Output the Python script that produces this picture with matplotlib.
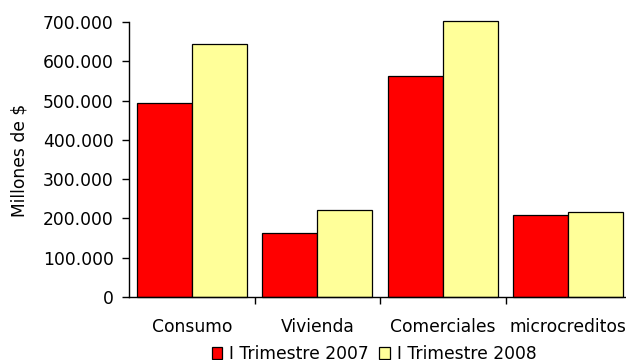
import numpy as np
import matplotlib
matplotlib.use("Agg")
import matplotlib.pyplot as plt
from matplotlib.ticker import FuncFormatter

categorias = ["Consumo", "Vivienda", "Comerciales", "microcreditos"]
trim_2007 = [494000, 164000, 562000, 209000]
trim_2008 = [643000, 221000, 703000, 217000]
series = ["I Trimestre 2007", "I Trimestre 2008"]

plt.rcParams["font.family"] = "DejaVu Sans"
plt.rcParams["font.size"] = 12.3

fig = plt.figure(figsize=(6.26, 3.6), dpi=100)
ax = fig.add_axes([129 / 626, 0.175, 502 / 626, 0.764])

x = np.arange(len(categorias))
w = 0.438
ax.bar(x - w / 2, trim_2007, w, color="#ff0000", edgecolor="black", linewidth=0.9,
       label=series[0], clip_on=False)
ax.bar(x + w / 2, trim_2008, w, color="#ffff99", edgecolor="black", linewidth=0.9,
       label=series[1], clip_on=False)

ax.set_xlim(-0.5, len(categorias) - 0.5)
ax.set_ylim(0, 700000)
ax.set_yticks(np.arange(0, 700001, 100000))
ax.yaxis.set_major_formatter(FuncFormatter(lambda v, p: f"{int(v):,}".replace(",", ".")))

ax.set_xticks(x)
ax.set_xticklabels(categorias)
ax.set_xticks(np.arange(0.5, len(categorias) - 0.5, 1), minor=True)
ax.tick_params(axis="x", which="major", length=0, pad=15)
ax.tick_params(axis="x", which="minor", length=5, width=1, direction="out")
ax.tick_params(axis="y", length=5, width=1, direction="out", pad=6)

for s in ["top", "right"]:
    ax.spines[s].set_visible(False)
ax.spines["left"].set_linewidth(1)
ax.spines["bottom"].set_linewidth(1)

fig.text(20 / 626, 1 - 160 / 360, "Millones de $", rotation=90, ha="center", va="center")

fig.legend(loc="center", bbox_to_anchor=(374 / 626, 1 - 354 / 360), ncol=2, frameon=False,
           handlelength=0.62, handleheight=0.62, handletextpad=0.41,
           columnspacing=0.59, borderaxespad=0)

fig.savefig("out.png", dpi=100)
